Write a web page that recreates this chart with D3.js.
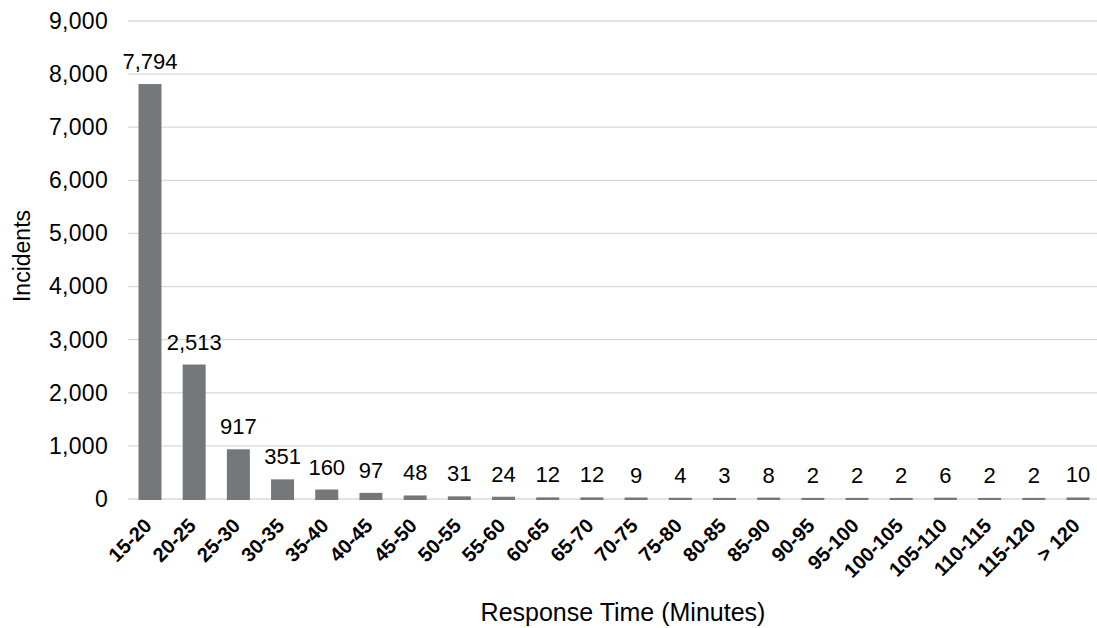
<!DOCTYPE html>
<html><head><meta charset="utf-8">
<script src="https://cdn.jsdelivr.net/npm/d3@7"></script>
<style>body{margin:0;background:#fff;} svg{display:block;}</style>
</head><body>
<svg id="c" width="1097" height="628"></svg>
<script>
const categories = ["15-20","20-25","25-30","30-35","35-40","40-45","45-50","50-55","55-60","60-65","65-70","70-75","75-80","80-85","85-90","90-95","95-100","100-105","105-110","110-115","115-120","> 120"];
const incidents = [7794,2513,917,351,160,97,48,31,24,12,12,9,4,3,8,2,2,2,6,2,2,10];
const yTicks = [0,1000,2000,3000,4000,5000,6000,7000,8000,9000];
const xTitle = "Response Time (Minutes)";
const yTitle = "Incidents";

const svg = d3.select("#c");
const m = {left:128, right:1100, top:21, bottom:499};
const x = d3.scaleBand().domain(categories).range([m.left, m.right]).paddingInner(0.525).paddingOuter(0.26);
const y = d3.scaleLinear().domain([0,9000]).range([m.bottom, m.top]);
const fmt = d3.format(",");
const font = "'Liberation Sans', Arial, sans-serif";

// gridlines
svg.append("g").selectAll("line").data(yTicks).join("line")
  .attr("x1", m.left).attr("x2", m.right)
  .attr("y1", d=>y(d)).attr("y2", d=>y(d))
  .attr("stroke", "#d9d9d9").attr("stroke-width", 1.3);

// y axis labels
const ya = svg.append("g").attr("transform", `translate(${m.left},0)`)
  .call(d3.axisLeft(y).tickValues(yTicks).tickFormat(fmt).tickSize(0).tickPadding(20));
ya.select(".domain").remove();
ya.selectAll("text").attr("font-family", font).attr("font-size", 23).attr("letter-spacing", 0.3).attr("fill", "#000");

// bars
svg.append("g").selectAll("rect").data(incidents).join("rect")
  .attr("x", (d,i)=>x(categories[i]))
  .attr("width", x.bandwidth())
  .attr("y", d=>y(d))
  .attr("height", d=>y(0)-y(d))
  .attr("fill", "#75787b").attr("stroke", "#75787b").attr("stroke-width", 2);

// data labels
svg.append("g").selectAll("text").data(incidents).join("text")
  .attr("x", (d,i)=>x(categories[i]) + x.bandwidth()/2)
  .attr("y", d=>y(d) - 16)
  .attr("text-anchor", "middle")
  .attr("font-family", font).attr("font-size", 22).attr("fill", "#000")
  .text(d=>fmt(d));

// x axis labels
const xa = svg.append("g").attr("transform", `translate(0,${m.bottom})`)
  .call(d3.axisBottom(x).tickSize(0).tickPadding(0));
xa.select(".domain").remove();
xa.selectAll("text")
  .attr("font-family", font).attr("font-size", 20).attr("font-weight", "bold").attr("fill", "#000")
  .attr("text-anchor", "end").attr("dy", null).attr("y", 0)
  .attr("transform", "translate(3,28) rotate(-45)");

svg.append("text").attr("x", 623).attr("y", 621).attr("text-anchor", "middle")
  .attr("font-family", font).attr("font-size", 25).text(xTitle);
svg.append("text").attr("transform", "translate(30,256) rotate(-90)").attr("text-anchor", "middle")
  .attr("font-family", font).attr("font-size", 23).text(yTitle);
</script>
</body></html>
